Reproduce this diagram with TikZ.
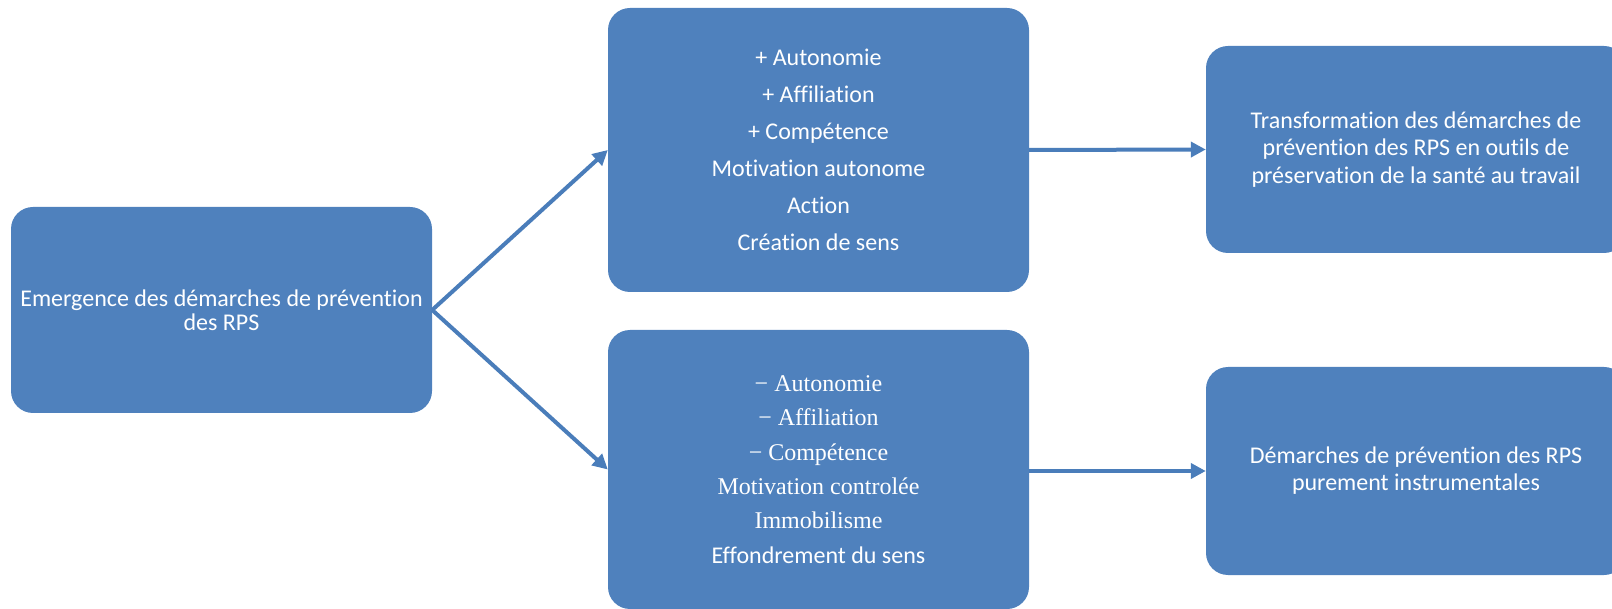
\documentclass[tikz,border=0pt]{standalone}
\usepackage{fontspec}
\setmainfont{Carlito}[Ligatures=NoCommon]
\newfontfamily\serifnr{Liberation Serif}
\usetikzlibrary{arrows.meta}
\definecolor{boxblue}{HTML}{4F81BD}
\definecolor{arrowblue}{HTML}{4A7DBA}
\newcommand{\srf}[1]{{\serifnr\fontsize{24}{34.3}\selectfont #1}}
\tikzset{
  box/.style={fill=boxblue, draw=none, rounded corners=22pt, text=white, align=center,
    inner sep=0pt, font=\fontsize{24}{24}\selectfont},
  conn/.style={draw=arrowblue, line width=4pt, -{Triangle[length=15pt,width=15pt]}, shorten >=0pt}
}
\begin{document}
\begin{tikzpicture}[x=1pt,y=-1pt]
\useasboundingbox (0,0) rectangle (1612,609);
\clip (0,0) rectangle (1612,609);
\node[box, minimum width=421pt, minimum height=206pt] (emergence) at (221.5,310)
  {Emergence des démarches de prévention\\des RPS};
\node[box, minimum width=421pt, minimum height=284pt, font=\fontsize{24}{37}\selectfont] (plus) at (818.5,150)
  {+ Autonomie\\+ Affiliation\\+ Compétence\\Motivation autonome\\Action\\Création de sens};
\node[box, minimum width=421pt, minimum height=279pt, font=\fontsize{24}{34.3}\selectfont] (minus) at (818.5,469.5)
  {\srf{− Autonomie}\\\srf{− Affiliation}\\\srf{− Compétence}\\\srf{Motivation controlée}\\\srf{Immobilisme}\\Effondrement du sens};
\node[box, minimum width=420pt, minimum height=207pt, font=\fontsize{24}{27.5}\selectfont] (transf) at (1416,149.5)
  {Transformation des démarches de\\prévention des RPS en outils de\\préservation de la santé au travail};
\node[box, minimum width=420pt, minimum height=208pt, font=\fontsize{24}{27}\selectfont] (instr) at (1416,471)
  {Démarches de prévention des RPS\\purement instrumentales};
\draw[conn] (emergence.east) -- (plus.west);
\draw[conn] (emergence.east) -- (minus.west);
\draw[conn] (plus.east) -- (transf.west);
\draw[conn] (instr.west -| minus.east) -- (instr.west);
\end{tikzpicture}
\end{document}
